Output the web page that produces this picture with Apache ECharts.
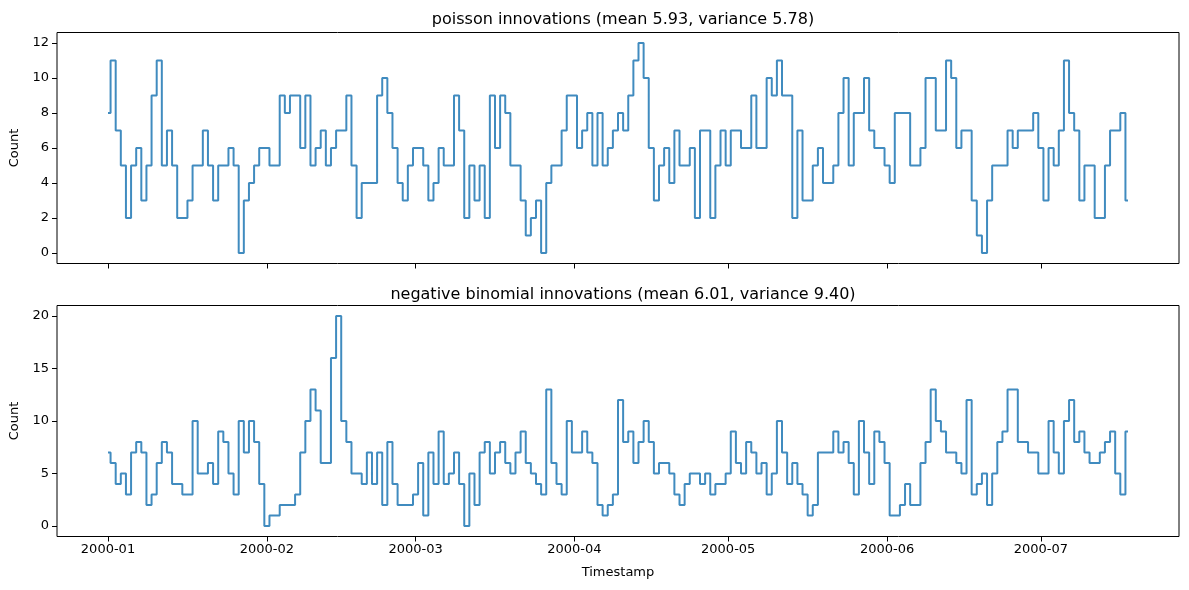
<!DOCTYPE html>
<html>
<head>
<meta charset="utf-8">
<title>innovations</title>
<script src="https://cdn.jsdelivr.net/npm/echarts@6/dist/echarts.min.js"></script>
<style>
  html, body { margin: 0; padding: 0; background: #fff; }
  #chart { width: 1189px; height: 590px; }
</style>
</head>
<body>
<div id="chart"></div>
<script>
// 月份刻度（距 2000-01-01 的天数）和标签
var monthStarts = [0, 31, 60, 91, 121, 152, 182];
var monthLabels = ['2000-01', '2000-02', '2000-03', '2000-04', '2000-05', '2000-06', '2000-07'];

// 每日计数，从 2000-01-01 开始
var poissonCounts = [
    8, 11, 7, 5, 2, 5, 6, 3, 5, 9,
    11, 5, 7, 5, 2, 2, 3, 5, 5, 7,
    5, 3, 5, 5, 6, 5, 0, 3, 4, 5,
    6, 6, 5, 5, 9, 8, 9, 9, 6, 9,
    5, 6, 7, 5, 6, 7, 7, 9, 5, 2,
    4, 4, 4, 9, 10, 8, 6, 4, 3, 5,
    6, 6, 5, 3, 4, 6, 5, 5, 9, 7,
    2, 5, 3, 5, 2, 9, 6, 9, 8, 5,
    5, 3, 1, 2, 3, 0, 4, 5, 5, 7,
    9, 9, 6, 7, 8, 5, 8, 5, 6, 7,
    8, 7, 9, 11, 12, 10, 6, 3, 5, 6,
    4, 7, 5, 5, 6, 2, 7, 7, 2, 5,
    7, 5, 7, 7, 6, 6, 9, 6, 6, 10,
    9, 11, 9, 9, 2, 7, 3, 3, 5, 6,
    4, 4, 5, 8, 10, 5, 8, 8, 10, 7,
    6, 6, 5, 4, 8, 8, 8, 5, 5, 6,
    10, 10, 7, 7, 11, 10, 6, 7, 7, 3,
    1, 0, 3, 5, 5, 5, 7, 6, 7, 7,
    7, 8, 6, 3, 6, 5, 7, 11, 8, 7,
    3, 5, 5, 2, 2, 5, 7, 7, 8, 3
];

var negbinCounts = [
    7, 6, 4, 5, 3, 7, 8, 7, 2, 3,
    6, 8, 7, 4, 4, 3, 3, 10, 5, 5,
    6, 4, 9, 8, 5, 3, 10, 7, 10, 8,
    4, 0, 1, 1, 2, 2, 2, 3, 7, 10,
    13, 11, 6, 6, 16, 20, 10, 8, 5, 5,
    4, 7, 4, 7, 2, 8, 4, 2, 2, 2,
    3, 6, 1, 7, 4, 9, 4, 5, 7, 4,
    0, 5, 2, 7, 8, 5, 7, 8, 6, 5,
    7, 9, 6, 5, 4, 3, 13, 6, 4, 3,
    10, 7, 7, 9, 7, 6, 2, 1, 2, 3,
    12, 8, 9, 6, 8, 10, 8, 5, 6, 6,
    5, 3, 2, 4, 5, 5, 4, 5, 3, 4,
    4, 5, 9, 6, 5, 8, 7, 5, 6, 3,
    5, 10, 7, 4, 6, 4, 3, 1, 2, 7,
    7, 7, 9, 7, 8, 6, 3, 10, 7, 4,
    9, 8, 6, 1, 1, 2, 4, 2, 2, 6,
    8, 13, 10, 9, 7, 7, 6, 5, 12, 3,
    4, 5, 2, 5, 8, 9, 13, 13, 8, 8,
    7, 7, 5, 5, 10, 7, 5, 10, 12, 8,
    9, 7, 6, 6, 7, 8, 9, 5, 3, 9
];

var poissonTicks = [0, 2, 4, 6, 8, 10, 12];
var negbinTicks = [0, 5, 10, 15, 20];

var poissonTitle = 'poisson innovations (mean 5.93, variance 5.78)';
var negbinTitle = 'negative binomial innovations (mean 6.01, variance 9.40)';

var FONT = 'DejaVu Sans';
var LINE_COLOR = '#1f77b4';

function toPoints(arr) {
    return arr.map(function (v, i) { return [i, v]; });
}

function monthName(v) {
    var idx = monthStarts.indexOf(v);
    return idx >= 0 ? monthLabels[idx] : '';
}

// matplotlib 默认留 5% 边距
var n = poissonCounts.length;
var xPad = (n - 1) * 0.05;

function xAxisFor(gridIndex, showLabels) {
    return {
        type: 'value',
        gridIndex: gridIndex,
        position: 'bottom',
        min: -xPad,
        max: n - 1 + xPad,
        name: showLabels ? 'Timestamp' : '',
        nameLocation: 'middle',
        nameGap: 30,
        nameTextStyle: { color: '#000', fontFamily: FONT, fontSize: 13 },
        axisLine: { show: false, onZero: false },
        splitLine: { show: false },
        axisTick: {
            show: true,
            customValues: monthStarts,
            length: 5,
            lineStyle: { color: '#000', width: 1 }
        },
        axisLabel: {
            show: showLabels,
            customValues: monthStarts,
            formatter: monthName,
            margin: 7,
            color: '#000',
            fontFamily: FONT,
            fontSize: 13
        }
    };
}

function yAxisFor(gridIndex, ticks, lo, hi) {
    var pad = (hi - lo) * 0.05;
    return {
        type: 'value',
        gridIndex: gridIndex,
        position: 'left',
        min: lo - pad,
        max: hi + pad,
        name: 'Count',
        nameLocation: 'middle',
        nameGap: 36,
        nameRotate: 90,
        nameTextStyle: { color: '#000', fontFamily: FONT, fontSize: 13 },
        axisLine: { show: false, onZero: false },
        splitLine: { show: false },
        axisTick: {
            show: true,
            customValues: ticks,
            length: 5,
            lineStyle: { color: '#000', width: 1 }
        },
        axisLabel: {
            customValues: ticks,
            margin: 8,
            color: '#000',
            fontFamily: FONT,
            fontSize: 13
        }
    };
}

var myChart = echarts.init(document.getElementById('chart'), null, { renderer: 'canvas' });

var gridLeft = 57, gridRight = 10;
var titleX = gridLeft + (1189 - gridLeft - gridRight) / 2;

var option = {
    animation: false,
    backgroundColor: '#fff',
    title: [
        {
            text: poissonTitle,
            left: titleX,
            top: 7,
            textAlign: 'center',
            textStyle: { color: '#000', fontFamily: FONT, fontSize: 16, fontWeight: 'normal' }
        },
        {
            text: negbinTitle,
            left: titleX,
            top: 282,
            textAlign: 'center',
            textStyle: { color: '#000', fontFamily: FONT, fontSize: 16, fontWeight: 'normal' }
        }
    ],
    grid: [
        { left: gridLeft, right: gridRight, top: 32.5, height: 231, show: true, borderColor: '#000', borderWidth: 1, backgroundColor: 'transparent' },
        { left: gridLeft, right: gridRight, top: 305.5, height: 231, show: true, borderColor: '#000', borderWidth: 1, backgroundColor: 'transparent' }
    ],
    xAxis: [xAxisFor(0, false), xAxisFor(1, true)],
    yAxis: [yAxisFor(0, poissonTicks, 0, 12), yAxisFor(1, negbinTicks, 0, 20)],
    series: [
        {
            name: 'poisson',
            type: 'line',
            xAxisIndex: 0,
            yAxisIndex: 0,
            step: 'middle',
            showSymbol: false,
            data: toPoints(poissonCounts),
            lineStyle: { color: LINE_COLOR, width: 2, opacity: 0.85 }
        },
        {
            name: 'negative binomial',
            type: 'line',
            xAxisIndex: 1,
            yAxisIndex: 1,
            step: 'middle',
            showSymbol: false,
            data: toPoints(negbinCounts),
            lineStyle: { color: LINE_COLOR, width: 2, opacity: 0.85 }
        }
    ]
};

myChart.setOption(option);
</script>
</body>
</html>
